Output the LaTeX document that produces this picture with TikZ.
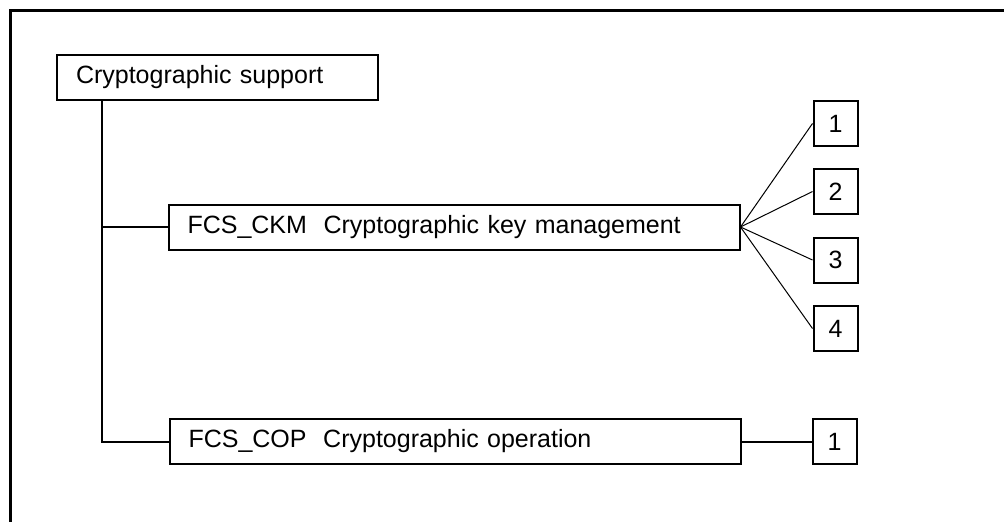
\documentclass[tikz,border=0pt]{standalone}
\usepackage{fontspec}
\setmainfont{Liberation Sans}
\usetikzlibrary{positioning}

\begin{document}
\begin{tikzpicture}[x=1pt, y=1pt, font=\fontsize{25}{30}\selectfont,
    famblock/.style={draw, rectangle, line width=2pt, minimum height=45pt, inner xsep=19pt, align=left},
    numbox/.style={draw, rectangle, line width=2pt, minimum width=44pt, minimum height=45pt, inner sep=0pt},
    link/.style={line width=2pt},
    fan/.style={line width=1pt}]
    \useasboundingbox (0,0) rectangle (1004,-522);
    % frame
    \draw[line width=3pt] (10,-522) -- (10,-10) -- (1004,-10);

    \node (cls) [famblock, minimum width=321pt, text width=283pt] at (217.5,-77) {Cryptographic support};
    \node (ckm) [famblock, minimum width=571pt, text width=533pt] at (454,-227) {FCS\_CKM\ \ Cryptographic key management};
    \node (cop) [famblock, minimum width=571pt, text width=533pt] at (455,-441.5) {FCS\_COP\ \ Cryptographic operation};

    \node (ckm1) [numbox, right=72pt of ckm.east, yshift=103.5pt] {1};
    \node (ckm2) [numbox, right=72pt of ckm.east, yshift=35.5pt] {2};
    \node (ckm3) [numbox, right=72pt of ckm.east, yshift=-33pt] {3};
    \node (ckm4) [numbox, right=72pt of ckm.east, yshift=-101.5pt] {4};
    \node (cop1) [numbox, right=70pt of cop.east] {1};

    \coordinate (trunk) at (102,-99);
    \draw[link] (trunk) |- (cop.west);
    \draw[link] (trunk |- ckm.west) -- (ckm.west);
    \draw[link] (cop.east) -- (cop1.west);
    \foreach \k in {1,...,4}
        \draw[fan] (ckm.east) -- (ckm\k.west);
\end{tikzpicture}
\end{document}
